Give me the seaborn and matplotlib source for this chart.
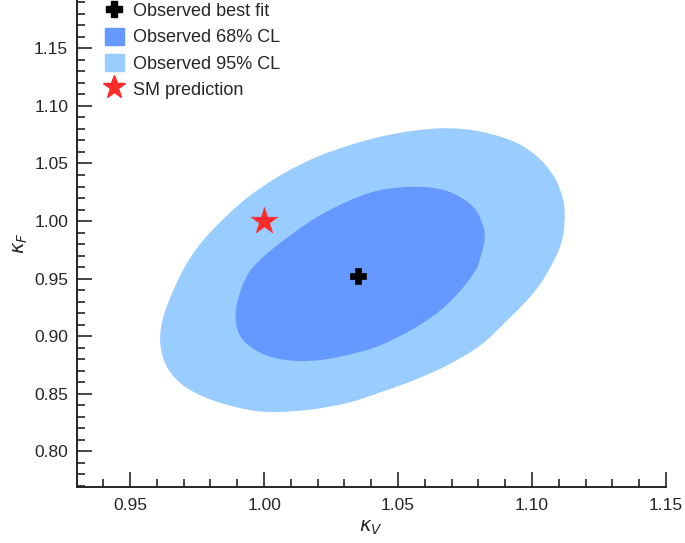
import numpy as np
import pandas as pd
import seaborn as sns
import matplotlib.pyplot as plt
from matplotlib.lines import Line2D
from matplotlib.patches import Patch, PathPatch
from matplotlib.path import Path
from matplotlib.ticker import MultipleLocator

# contour outlines (kappa_V, kappa_F), clockwise
cl95_kv = [1.0435, 1.0559, 1.0684, 1.0808, 1.0932, 1.1020, 1.1082, 1.1113, 1.1122,
           1.1117, 1.1100, 1.1069, 1.1032, 1.0982, 1.0908, 1.0808, 1.0684, 1.0559,
           1.0435, 1.0311, 1.0174, 1.0050, 0.9950, 0.9826, 0.9726, 0.9664, 0.9626,
           0.9612, 0.9621, 0.9651, 0.9701, 0.9763, 0.9850, 0.9950, 1.0074, 1.0199,
           1.0323]
cl95_kf = [1.0733, 1.0785, 1.0806, 1.0777, 1.0690, 1.0559, 1.0385, 1.0211, 1.0067,
           0.9893, 0.9748, 0.9603, 0.9458, 0.9313, 0.9139, 0.8922, 0.8748, 0.8617,
           0.8513, 0.8420, 0.8363, 0.8342, 0.8357, 0.8429, 0.8530, 0.8646, 0.8791,
           0.8965, 0.9139, 0.9342, 0.9589, 0.9806, 1.0023, 1.0226, 1.0415, 1.0559,
           1.0661]

cl68_kv = [1.0435, 1.0559, 1.0659, 1.0734, 1.0790, 1.0818, 1.0823, 1.0808, 1.0790,
           1.0734, 1.0659, 1.0559, 1.0435, 1.0335, 1.0224, 1.0124, 1.0025, 0.9950,
           0.9906, 0.9894, 0.9913, 0.9950, 1.0012, 1.0099, 1.0199, 1.0323]
cl68_kf = [1.0270, 1.0298, 1.0276, 1.0206, 1.0096, 0.9950, 0.9835, 0.9690, 0.9574,
           0.9400, 0.9226, 0.9067, 0.8922, 0.8850, 0.8797, 0.8785, 0.8820, 0.8907,
           0.9023, 0.9197, 0.9400, 0.9574, 0.9719, 0.9878, 1.0037, 1.0183]

best_fit = pd.DataFrame({'kv': [1.035], 'kf': [0.952]})
sm_point = pd.DataFrame({'kv': [1.00], 'kf': [1.00]})

c95 = '#99ccff'
c68 = '#6699ff'
cstar = '#ff2a2a'


def smooth_outline(xs, ys):
    # closed curve through the traced points (Catmull-Rom as cubic Bezier)
    p = np.column_stack([xs, ys])
    n = len(p)
    verts = [p[0]]
    codes = [Path.MOVETO]
    for i in range(n):
        p0, p1, p2, p3 = p[i - 1], p[i], p[(i + 1) % n], p[(i + 2) % n]
        verts += [p1 + (p2 - p0) / 6, p2 - (p3 - p1) / 6, p2]
        codes += [Path.CURVE4] * 3
    verts.append(p[0])
    codes.append(Path.CLOSEPOLY)
    return Path(verts, codes)


sns.set_style('ticks')
plt.rcParams['font.family'] = ['Liberation Sans', 'DejaVu Sans']
plt.rcParams['mathtext.fontset'] = 'dejavusans'

fig = plt.figure(figsize=(6.85, 5.43), dpi=100)
ax = fig.add_axes([0.1117, 0.1031, 0.8606, 0.8969])

ax.add_patch(PathPatch(smooth_outline(cl95_kv, cl95_kf), facecolor=c95, lw=0, zorder=1))
ax.add_patch(PathPatch(smooth_outline(cl68_kv, cl68_kf), facecolor=c68, lw=0, zorder=2))
sns.scatterplot(data=best_fit, x='kv', y='kf', marker='P', s=130, color='black',
                edgecolor='black', linewidth=0.5, ax=ax, zorder=4)
sns.scatterplot(data=sm_point, x='kv', y='kf', marker='*', s=420, color=cstar,
                edgecolor=cstar, linewidth=0.3, ax=ax, zorder=4)

ax.set_xlim(0.93, 1.15)
ax.set_ylim(0.769, 1.192)
ax.xaxis.set_major_locator(MultipleLocator(0.05))
ax.xaxis.set_minor_locator(MultipleLocator(0.01))
ax.yaxis.set_major_locator(MultipleLocator(0.05))
ax.yaxis.set_minor_locator(MultipleLocator(0.01))
ax.xaxis.set_major_formatter(lambda v, p: f'{v:.2f}')
ax.yaxis.set_major_formatter(lambda v, p: f'{v:.2f}')
ax.tick_params(which='major', direction='in', length=11, width=1.2, labelsize=12.5, pad=8)
ax.tick_params(which='minor', direction='in', length=6, width=1.2)
ax.tick_params(axis='y', pad=6)
sns.despine(ax=ax)
for s in ('left', 'bottom'):
    ax.spines[s].set_linewidth(1.4)

ax.set_xlabel(r'$\kappa_V$', fontsize=14, labelpad=4)
ax.set_ylabel(r'$\kappa_F$', fontsize=14, labelpad=3)

handles = [
    Line2D([], [], marker='P', color='black', ls='', markersize=11),
    Patch(color=c68),
    Patch(color=c95),
    Line2D([], [], marker='*', color=cstar, ls='', markersize=17),
]
labels = ['Observed best fit', 'Observed 68% CL', 'Observed 95% CL', 'SM prediction']
ax.legend(handles, labels, loc='upper left', bbox_to_anchor=(0.02, 1.03), frameon=False,
          fontsize=13, handlelength=1.1, handleheight=1.1, handletextpad=0.5,
          labelspacing=0.4)

fig.savefig('out.png', dpi=100)
